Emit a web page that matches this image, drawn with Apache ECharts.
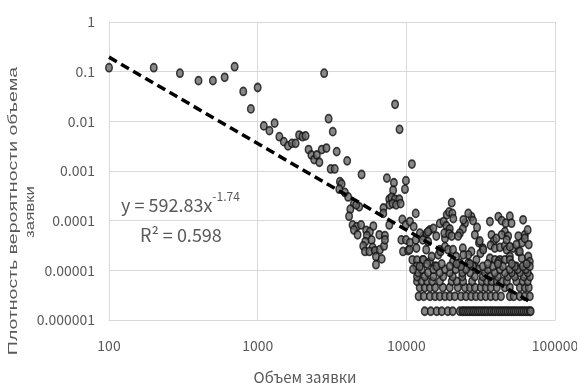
<!DOCTYPE html>
<html>
<head>
<meta charset="utf-8">
<script src="https://cdn.jsdelivr.net/npm/echarts@6/dist/echarts.min.js"></script>
<style>
  html, body { margin: 0; padding: 0; background: #ffffff; }
  #chart { width: 577px; height: 385px; }
</style>
</head>
<body>
<div id="chart"></div>
<script>
// Order volume (x) and probability density (y), log-log scatter with a power trendline.

// Sparse head of the distribution
const headVolume = [100, 200, 300, 400, 500, 600, 700, 800, 900, 1000,
  1100, 1200, 1300, 1400, 1500, 1600, 1700, 1800, 1900, 2000,
  2100, 2200, 2300, 2400, 2500, 2600, 2700, 2800, 2900, 3000,
  3100, 3200, 3300, 3400, 4000, 5000, 8400, 9000, 10900];
const headDensity = [0.12, 0.12, 0.093, 0.066, 0.066, 0.077, 0.126, 0.04, 0.0178, 0.048,
  0.0081, 0.0065, 0.0092, 0.0049, 0.0039, 0.0032, 0.0036, 0.0036, 0.0053, 0.0049,
  0.0051, 0.0027, 0.0021, 0.0017, 0.0021, 0.0015, 0.0027, 0.093, 0.0029, 0.0113,
  0.0011, 0.0062, 0.0011, 0.00246, 0.0016, 0.00085, 0.022, 0.0069, 0.00138];

// Middle cluster, 3500 – 16000
const midVolume = [3575, 3670, 3540, 3860, 4060, 4440, 4200, 4120, 4820, 4600,
  7400, 8250, 8150, 9940, 9790, 7680, 7950, 8380, 8960, 7700,
  8080, 8540, 9150, 7020, 7000, 11570, 9400, 9900, 10570, 11200,
  7680, 4350, 4640, 4960, 4440, 4700, 5370, 5690, 6000, 5430,
  5840, 5300, 6580, 7180, 5130, 5930, 5270, 5640, 6150, 6640,
  6250, 6830, 6250, 7080, 7180, 9260, 9940, 10570, 11570, 9500,
  10280, 11700, 10980, 11800, 12900, 14400, 15600, 10500, 11700, 13000];
const midDensity = [6.1e-4, 5.5e-4, 4.3e-4, 3.7e-4, 3.0e-4, 2.2e-4, 1.7e-4, 1.23e-4, 1.9e-4, 2.08e-4,
  7.2e-4, 5.8e-4, 4.1e-4, 6.4e-4, 4.3e-4, 2.7e-4, 2.95e-4, 2.7e-4, 2.7e-4, 2.08e-4,
  2.2e-4, 2.08e-4, 2.2e-4, 1.8e-4, 1.4e-4, 1.4e-4, 1.06e-4, 8.2e-5, 9.6e-5, 7.6e-5,
  8.2e-5, 8.2e-5, 7.6e-5, 8.2e-5, 6.5e-5, 5.2e-5, 6.4e-5, 6.0e-5, 7.8e-5, 5.0e-5,
  4.1e-5, 3.8e-5, 5.2e-5, 5.0e-5, 3.1e-5, 2.9e-5, 2.4e-5, 2.4e-5, 2.5e-5, 2.6e-5,
  1.9e-5, 1.7e-5, 1.3e-5, 3.1e-5, 4.1e-5, 4.1e-5, 4.1e-5, 3.6e-5, 4.1e-5, 2.4e-5,
  2.5e-5, 2.8e-5, 1.63e-5, 1.6e-5, 1.63e-5, 1.5e-5, 1.22e-5, 2.6e-5, 1.2e-5, 4.9e-5];

// Upper part of the tail, 12000 – 68000
const tailVolume = [12340, 13700, 14400, 15200, 16800, 12900, 14000, 16800, 18200, 16400,
  18700, 17800, 19200, 18200, 20200, 19400, 20400, 20700, 18600, 19600,
  18000, 19400, 20200, 14000, 27400, 28100, 29900, 24800, 24000, 22900,
  22300, 36500, 41600, 43800, 46600, 49700, 51000, 61000, 46000, 43800,
  48400, 37400, 38800, 36900, 30800, 32700, 31500, 29600, 27400, 26100,
  24000, 24200, 19100, 20600, 17000, 13600, 14800, 13000, 39400, 42600,
  46000, 47300, 36500, 39400, 42600, 46000, 56700, 59800, 62700, 52300,
  56700, 59800, 66200, 49700, 20600, 22900, 26100, 28900, 31200, 32900,
  40300, 47300, 49700, 55000, 58000, 62700, 41500, 49700, 55000, 62700,
  26800, 21600, 15900, 24200, 26100, 28900, 65500, 66600, 67700];
const tailDensity = [5.6e-5, 5.6e-5, 6.5e-5, 7.0e-5, 8.8e-5, 4.1e-5, 3.8e-5, 2.6e-5, 3.0e-5, 2.05e-5,
  1.31e-4, 9.6e-5, 6.5e-5, 4.4e-5, 2.3e-4, 1.5e-4, 1.4e-4, 1.1e-4, 7.9e-5, 6.8e-5,
  5.6e-5, 5.4e-5, 4.9e-5, 6.0e-5, 1.2e-4, 1.0e-4, 7.3e-5, 8.9e-5, 6.8e-5, 5.6e-5,
  4.9e-5, 9.6e-5, 1.2e-4, 1.0e-4, 8.9e-5, 1.23e-4, 8.9e-5, 1.04e-4, 6.0e-5, 5.2e-5,
  4.9e-5, 5.2e-5, 3.9e-5, 3.2e-5, 3.6e-5, 2.8e-5, 2.2e-5, 1.63e-5, 2.4e-5, 2.05e-5,
  2.8e-5, 2.05e-5, 2.6e-5, 2.6e-5, 2.4e-5, 2.6e-5, 1.9e-5, 1.63e-5, 2.8e-5, 2.9e-5,
  3.1e-5, 2.6e-5, 1.75e-5, 1.63e-5, 1.63e-5, 1.63e-5, 4.9e-5, 3.6e-5, 5.2e-5, 2.8e-5,
  2.4e-5, 1.75e-5, 1.9e-5, 1.9e-5, 1.5e-5, 1.4e-5, 1.4e-5, 1.2e-5, 3.9e-5, 2.6e-5,
  4.4e-5, 4.1e-5, 3.0e-5, 3.3e-5, 2.4e-5, 4.4e-5, 1.5e-5, 1.63e-5, 1.2e-5, 1.1e-5,
  1.2e-5, 1.9e-5, 4.9e-5, 1.04e-4, 1.4e-4, 5.2e-5, 6.5e-5, 3.3e-5, 1.5e-5];

// Lowest densities come in discrete levels (1, 2, 3 … orders per volume)
const levelDensity = [1.5e-6, 3.0e-6, 4.5e-6, 6.0e-6, 7.5e-6, 9.0e-6, 1.05e-5, 1.2e-5, 1.35e-5];
const levelVolume1 = [13300, 14600, 16000, 17300, 19000, 20500, 22900, 23800, 24400, 25200,
  26000, 26800, 27700, 28500, 29400, 30300, 31200, 32200, 33200, 34200,
  35300, 36500, 37500, 38800, 39900, 41300, 42600, 43900, 45300, 46700,
  48100, 49700, 51200, 52800, 54400, 56200, 58000, 59800, 61600, 63600,
  65500, 67700, 68600];
const levelVolume2 = [12100, 13100, 14400, 15600, 16800, 18200, 19600, 21200, 23300, 25200,
  27300, 29400, 31700, 34200, 37000, 39900, 43300, 49700, 52800, 58000, 62700, 67700];
const levelVolume3 = [12300, 13300, 14400, 15600, 17600, 19600, 22200, 24800, 26800, 28900,
  31700, 34200, 37000, 40600, 46000, 49700, 58000, 62700, 66600];
const levelVolume4 = [11800, 12700, 13800, 14900, 16800, 20200, 21800, 24100, 27700, 32200,
  34800, 37500, 40600, 43900, 47400, 55000, 60800, 65500];
const levelVolume5 = [11800, 13300, 15200, 17700, 20500, 23800, 28900, 32700, 36500, 41300,
  48100, 53700, 61600, 67700];
const levelVolume6 = [12000, 14000, 16800, 19600, 23800, 26800, 33800, 39400, 46000, 51200, 58000, 65500];
const levelVolume7 = [11100, 12700, 15200, 18200, 21500, 25200, 30300, 35300, 42600, 49700, 56200, 63600];
const levelVolume8 = [12300, 16000, 19600, 23300, 28100, 32700, 38100, 44600, 53700, 60800, 67700];
const levelVolume9 = [13800, 17300, 21800, 26800, 35300, 41300, 51200, 64500];
const levelVolumes = [levelVolume1, levelVolume2, levelVolume3, levelVolume4, levelVolume5,
  levelVolume6, levelVolume7, levelVolume8, levelVolume9];

// Power trendline y = a·x^b
const trendA = 592.83;
const trendB = -1.74;
const trendR2 = 0.598;

const xTickLabels = ['100', '1000', '10000', '100000'];
const yTickLabels = ['0.000001', '0.00001', '0.0001', '0.001', '0.01', '0.1', '1'];

const xTitle = 'Объем заявки';
const yTitleLine1 = 'Плотность вероятности объема';
const yTitleLine2 = 'заявки';

// ---- assemble series data ----
function pairs(xs, ys) { return xs.map((x, i) => [x, ys[i]]); }
const points = []
  .concat(pairs(headVolume, headDensity))
  .concat(pairs(midVolume, midDensity))
  .concat(pairs(tailVolume, tailDensity));
levelVolumes.forEach((vols, k) => vols.forEach(v => points.push([v, levelDensity[k]])));

const allX = points.map(p => p[0]);
const xFirst = Math.min.apply(null, allX);
const xLast = Math.max.apply(null, allX);
const trendLine = [xFirst, xLast].map(x => [x, trendA * Math.pow(x, trendB)]);

const narrowFont = "'Noto Sans CJK SC', 'Liberation Sans', sans-serif";
const tickColor = '#595959';
const gridColor = '#d9d9d9';

const chart = echarts.init(document.getElementById('chart'), null, { renderer: 'canvas' });
chart.setOption({
  animation: false,
  backgroundColor: '#ffffff',
  grid: { left: 109, right: 22, top: 22, bottom: 65, containLabel: false, outerBoundsMode: 'none' },
  xAxis: {
    type: 'log', logBase: 10, min: 100, max: 100000,
    axisLine: { show: true, lineStyle: { color: gridColor, width: 1 } },
    axisTick: { show: false },
    splitLine: { show: true, lineStyle: { color: gridColor, width: 1 } },
    minorTick: { show: false }, minorSplitLine: { show: false },
    axisLabel: {
      margin: 19, fontSize: 14, fontFamily: narrowFont, color: tickColor,
      showMinLabel: true, showMaxLabel: true,
      formatter: v => xTickLabels[Math.round(Math.log10(v)) - 2]
    }
  },
  yAxis: {
    type: 'log', logBase: 10, min: 1e-6, max: 1,
    axisLine: { show: true, lineStyle: { color: gridColor, width: 1 } },
    axisTick: { show: false },
    splitLine: { show: true, lineStyle: { color: gridColor, width: 1 } },
    minorTick: { show: false }, minorSplitLine: { show: false },
    axisLabel: {
      margin: 14, fontSize: 14, fontFamily: narrowFont, color: tickColor,
      showMinLabel: true, showMaxLabel: true,
      formatter: v => yTickLabels[Math.round(Math.log10(v)) + 6]
    }
  },
  series: [
    {
      type: 'scatter',
      data: points,
      symbol: 'circle',
      symbolSize: [6.5, 8],
      itemStyle: { color: '#6a6a6a', borderColor: '#111111', borderWidth: 1.6 },
      z: 2
    },
    {
      type: 'line',
      data: trendLine,
      showSymbol: false,
      symbol: 'none',
      lineStyle: { color: '#000000', width: 3.5, type: [9, 5] },
      z: 3
    }
  ],
  graphic: [
    {
      type: 'text', x: 121, y: 202, z: 10,
      style: {
        text: '{b|y = ' + trendA + 'x}{s|' + trendB + '}',
        textVerticalAlign: 'middle',
        rich: {
          b: { fontSize: 18, fontFamily: narrowFont, fill: tickColor, color: tickColor, lineHeight: 24, verticalAlign: 'bottom' },
          s: { fontSize: 12, fontFamily: narrowFont, fill: tickColor, color: tickColor, lineHeight: 14, verticalAlign: 'top' }
        }
      }
    },
    {
      type: 'text', x: 140, y: 235, z: 10,
      style: {
        text: 'R² = ' + trendR2,
        font: '18px ' + narrowFont, fill: tickColor,
        textVerticalAlign: 'middle'
      }
    },
    {
      type: 'text', x: 13, y: 211, rotation: Math.PI / 2, scaleX: 1.5, z: 10,
      style: {
        text: yTitleLine1, font: '13px "Liberation Sans", Arial, sans-serif', fill: '#595959',
        textAlign: 'center', textVerticalAlign: 'middle'
      }
    },
    {
      type: 'text', x: 31, y: 212, rotation: Math.PI / 2, scaleX: 1.4, z: 10,
      style: {
        text: yTitleLine2, font: '12px "Liberation Sans", Arial, sans-serif', fill: '#595959',
        textAlign: 'center', textVerticalAlign: 'middle'
      }
    },
    {
      type: 'text', x: 305, y: 377, z: 10,
      style: {
        text: xTitle, font: '15px ' + narrowFont, fill: '#595959',
        textAlign: 'center', textVerticalAlign: 'middle'
      }
    }
  ]
});
</script>
</body>
</html>
